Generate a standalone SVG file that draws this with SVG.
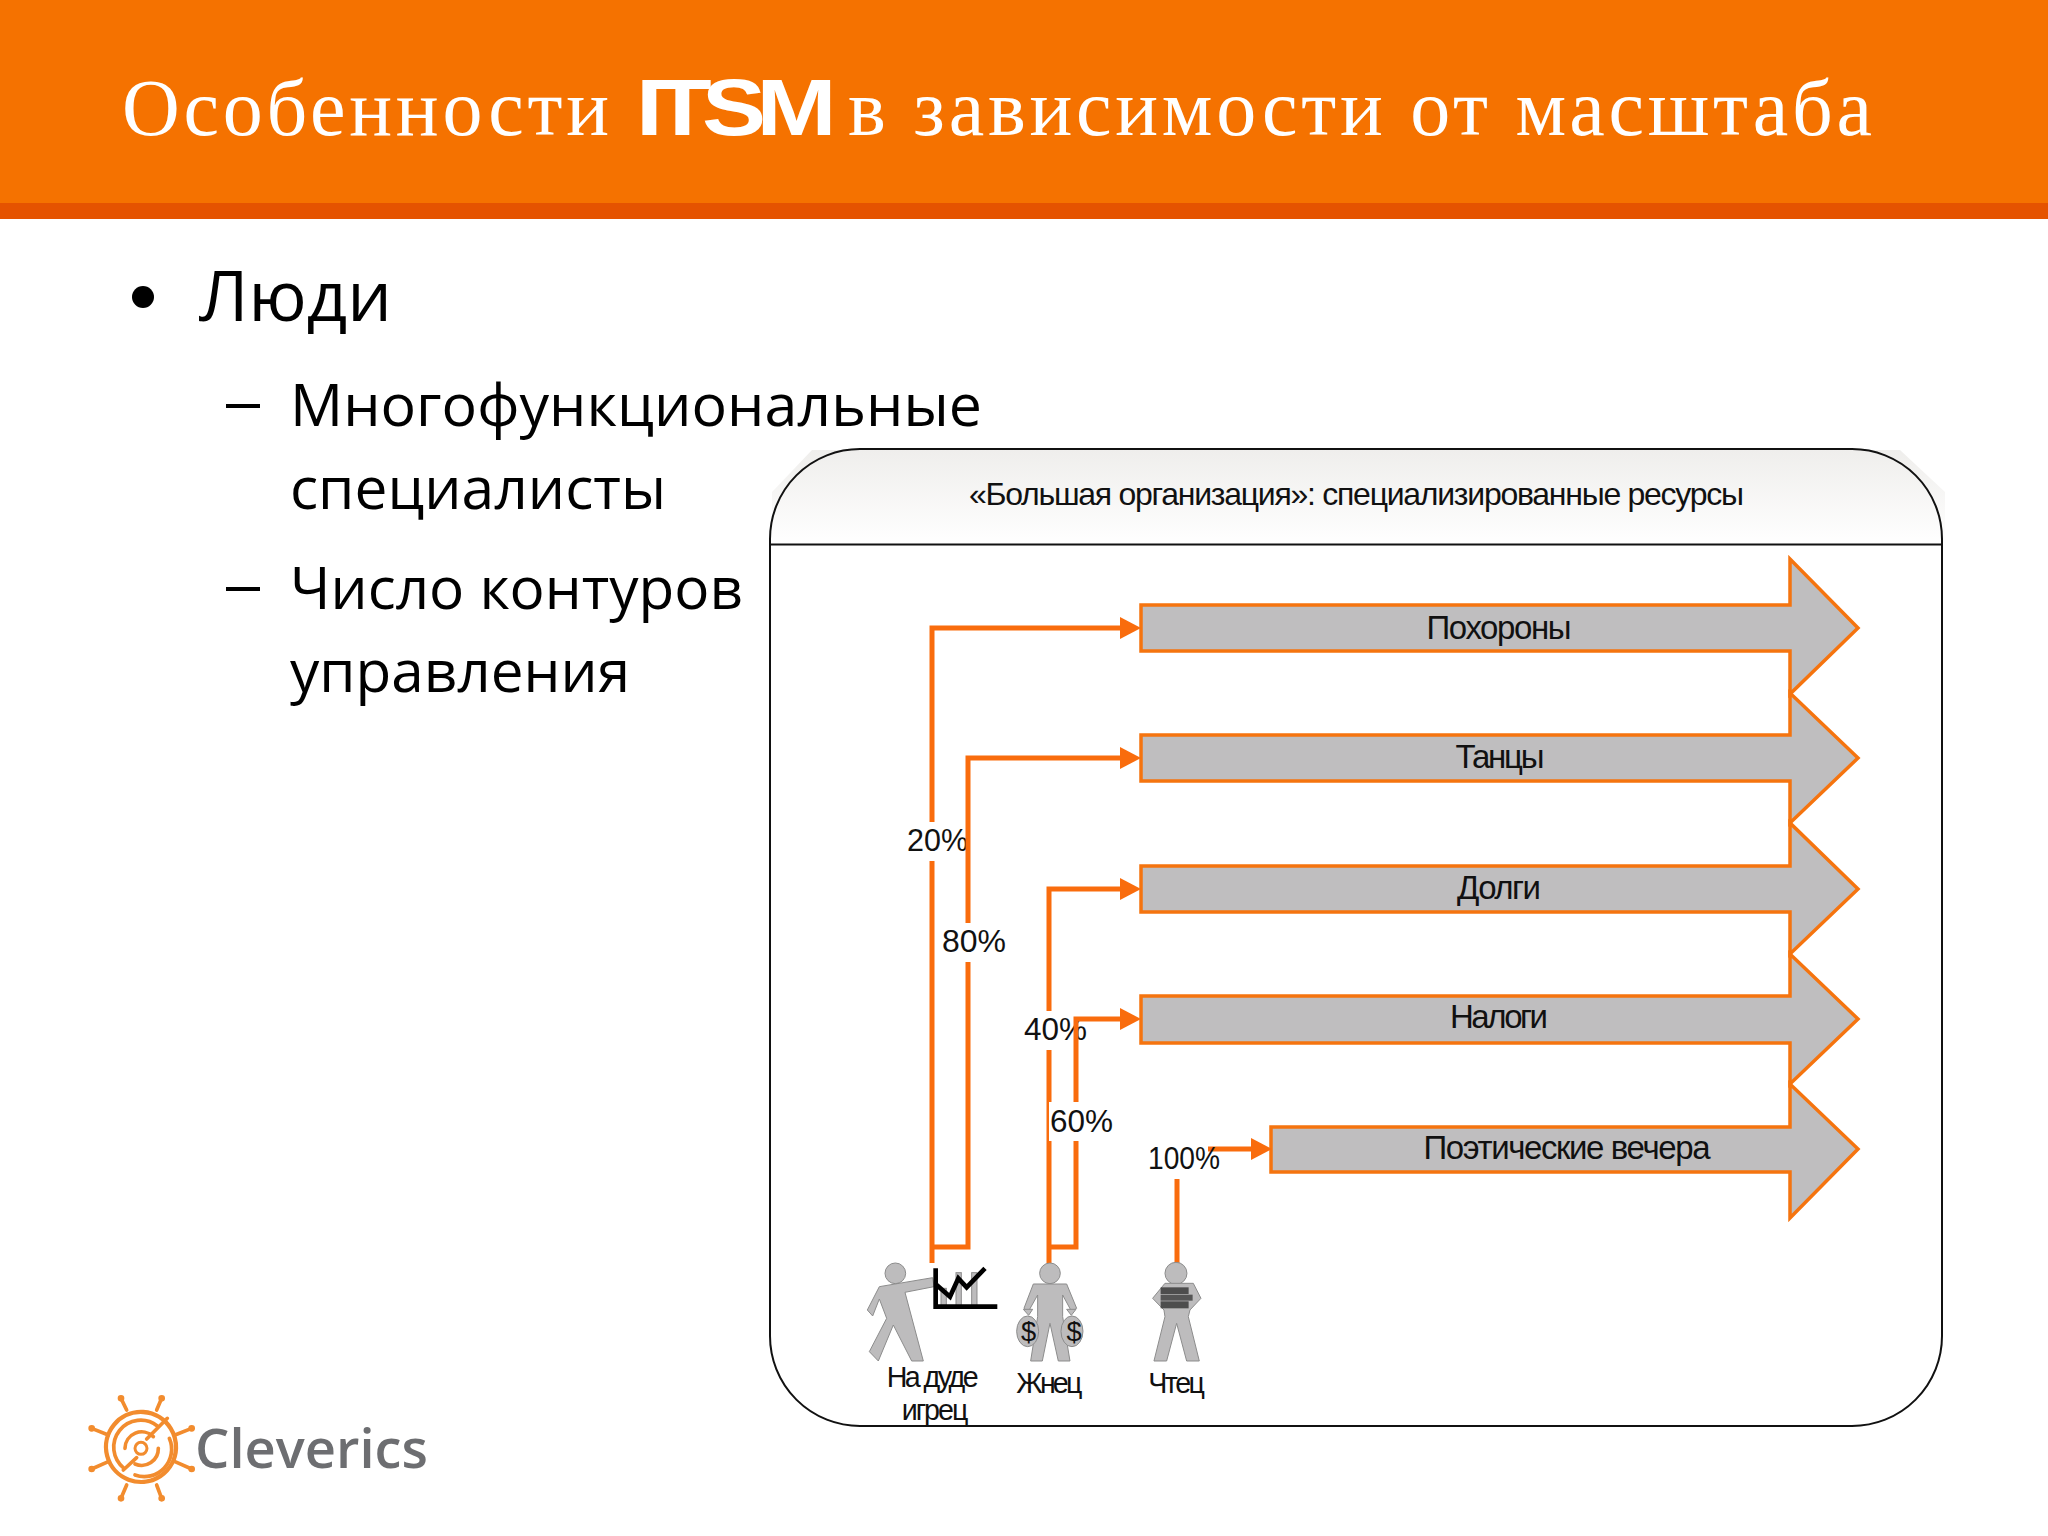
<svg xmlns="http://www.w3.org/2000/svg" width="2048" height="1536" viewBox="0 0 2048 1536">
<style>
.t{font-family:"Liberation Serif",serif;font-size:80px;fill:#fff}
.b{font-family:"Open Sans","Noto Sans",sans-serif;fill:#000}
.s{font-family:"Liberation Sans",Arial,sans-serif;fill:#111}
.p{font-size:32px}
.l{font-size:33px;text-anchor:middle}
.c{fill:none;stroke:#f96c0d;stroke-width:5}
.a{fill:#bfbebf;stroke:#f5740f;stroke-width:3.5}
.g{fill:#bdbcbd;stroke:#8c8c8c;stroke-width:3}
.w{fill:none;stroke:#f28c2e;stroke-linecap:round}
</style>
<defs>
<marker id="ah" markerUnits="userSpaceOnUse" markerWidth="21" markerHeight="22" refX="0" refY="11" orient="auto"><path d="M0 0L21 11L0 22Z" fill="#f96c0d"/></marker>
<linearGradient id="hg" x1="0" y1="0" x2="0" y2="1"><stop offset="0" stop-color="#efeeec"/><stop offset="1" stop-color="#fff"/></linearGradient>
</defs>
<rect width="2048" height="1536" fill="#fff"/>
<g id="header">
<rect width="2048" height="203" fill="#f57200"/>
<rect y="203" width="2048" height="16" fill="#e55300"/>
<text class="t" x="122" y="135" textLength="487" lengthAdjust="spacing">Особенности</text>
<text transform="translate(636 135) scale(1.2 1)" x="0" y="0" letter-spacing="-8" style="font-family:'Liberation Sans',sans-serif;font-weight:700;font-size:80px;fill:#fff">ITSM</text>
<text class="t" x="848" y="135" textLength="1024" lengthAdjust="spacing">в зависимости от масштаба</text>
</g>
<g id="bullets">
<circle cx="143" cy="297" r="11" fill="#000"/>
<text class="b" x="199" y="321" font-size="69" textLength="193" lengthAdjust="spacingAndGlyphs">Люди</text>
<rect x="226" y="404" width="34" height="4" fill="#000"/>
<text class="b" x="290" y="426" font-size="58" textLength="692" lengthAdjust="spacingAndGlyphs">Многофункциональные</text>
<text class="b" x="290" y="509" font-size="58" textLength="376" lengthAdjust="spacingAndGlyphs">специалисты</text>
<rect x="226" y="587" width="34" height="4" fill="#000"/>
<text class="b" x="290" y="609" font-size="58" textLength="453" lengthAdjust="spacingAndGlyphs">Число контуров</text>
<text class="b" x="290" y="692" font-size="58" textLength="340" lengthAdjust="spacingAndGlyphs">управления</text>
</g>
<g id="panel">
<path d="M772 544V492L812 450H1900L1945 492V544Z" fill="url(#hg)"/>
<rect x="770" y="449" width="1172" height="977" rx="90" ry="90" fill="none" stroke="#111" stroke-width="2"/>
<path d="M770 544.500H1942" stroke="#111" stroke-width="2"/>
<text class="s" x="969" y="505" font-size="32" textLength="775" lengthAdjust="spacing">«Большая организация»: специализированные ресурсы</text>
</g>
<g id="arrow-pohorony"><path class="a" d="M1141 605H1790V559L1858 628L1790 694V651H1141Z"/><text class="s l" x="1499" y="639" textLength="145" lengthAdjust="spacing">Похороны</text></g>
<g id="arrow-tantsy"><path class="a" d="M1141 735H1790V693L1858 758L1790 823V781H1141Z"/><text class="s l" x="1500" y="768" textLength="89" lengthAdjust="spacing">Танцы</text></g>
<g id="arrow-dolgi"><path class="a" d="M1141 866H1790V823L1858 889L1790 954V912H1141Z"/><text class="s l" x="1499" y="899" textLength="84" lengthAdjust="spacing">Долги</text></g>
<g id="arrow-nalogi"><path class="a" d="M1141 996H1790V954L1858 1019L1790 1084V1043H1141Z"/><text class="s l" x="1499" y="1028" textLength="98" lengthAdjust="spacing">Налоги</text></g>
<g id="arrow-vechera"><path class="a" d="M1271 1127H1790V1084L1858 1149L1790 1218V1172H1271Z"/><text class="s l" x="1567" y="1159" textLength="287" lengthAdjust="spacing">Поэтические вечера</text></g>
<g id="connectors">
<path class="c" d="M932 1263V628H1120" marker-end="url(#ah)"/>
<rect x="906" y="822" width="60" height="39" fill="#fff"/>
<text class="s p" x="907" y="851" textLength="61" lengthAdjust="spacingAndGlyphs">20%</text>
<path class="c" d="M932 1247H968V758H1120" marker-end="url(#ah)"/>
<rect x="943" y="923" width="64" height="39" fill="#fff"/>
<text class="s p" x="942" y="952" textLength="64" lengthAdjust="spacingAndGlyphs">80%</text>
<path class="c" d="M1049 1263V889H1120" marker-end="url(#ah)"/>
<rect x="1025" y="1011" width="62" height="39" fill="#fff"/>
<text class="s p" x="1024" y="1040" textLength="63" lengthAdjust="spacingAndGlyphs">40%</text>
<path class="c" d="M1049 1247H1076V1019H1120" marker-end="url(#ah)"/>
<rect x="1049" y="1102" width="63" height="39" fill="#fff"/>
<text class="s p" x="1050" y="1132" textLength="63" lengthAdjust="spacingAndGlyphs">60%</text>
<path class="c" d="M1177 1263V1149H1251" marker-end="url(#ah)"/>
<rect x="1148" y="1130" width="60" height="49" fill="#fff"/>
<text class="s p" x="1148" y="1169" textLength="72" lengthAdjust="spacingAndGlyphs">100%</text>
</g>
<g id="node-dude" transform="translate(840 1230) scale(.3333)">
<circle class="g" cx="166" cy="130" r="31"/>
<path class="g" d="M118 170L278 143L282 170L195 187L250 393H215L160 285L115 393L88 365L140 265L118 207L98 258L82 240Z"/>
<rect class="g" x="303" y="175" width="16" height="53"/><rect class="g" x="348" y="128" width="16" height="100"/><rect class="g" x="395" y="128" width="16" height="100"/>
<path d="M287 115V230H472" fill="none" stroke="#000" stroke-width="14"/>
<path d="M290 165L330 200L355 145L380 172L435 115" fill="none" stroke="#000" stroke-width="14"/>
<text class="s" x="140" y="470" font-size="86" textLength="276" lengthAdjust="spacing">На дуде</text>
<text class="s" x="285" y="570" font-size="86" text-anchor="middle" textLength="200" lengthAdjust="spacing">игрец</text>
</g>
<g id="node-zhnets" transform="translate(840 1230) scale(.3333)">
<circle class="g" cx="630" cy="130" r="31"/>
<path class="g" d="M580 162H680L710 235L695 245L668 195V260L690 393H655L630 280L607 393H572L593 260V195L565 245L552 235Z"/>
<path class="g" d="M550 238L578 238L566 256ZM708 238L680 238L694 256Z"/>
<ellipse class="g" cx="563" cy="304" rx="33" ry="46"/><ellipse class="g" cx="696" cy="304" rx="33" ry="46"/>
<text class="s" x="566" y="332" font-size="82" text-anchor="middle">$</text>
<text class="s" x="702" y="332" font-size="82" text-anchor="middle">$</text>
<text class="s" x="628" y="490" font-size="86" text-anchor="middle" textLength="198" lengthAdjust="spacing">Жнец</text>
</g>
<g id="node-chtets" transform="translate(840 1230) scale(.3333)">
<circle class="g" cx="1008" cy="130" r="33"/>
<path class="g" d="M975 160H1060L1083 205L1050 240L1045 260L1078 393H1040L1010 280L980 393H942L975 260L972 240L938 205Z"/>
<rect x="962" y="172" width="84" height="20" fill="#4d4d4d"/><rect x="962" y="194" width="96" height="18" fill="#555"/><rect x="962" y="214" width="84" height="21" fill="#4d4d4d"/>
<text class="s" x="1010" y="490" font-size="86" text-anchor="middle" textLength="170" lengthAdjust="spacing">Чтец</text>
</g>
<g id="logo">
<g class="w" transform="translate(70 1370) scale(.3333)">
<path d="M302 175A105 105 0 1 0 318 235A105 105 0 0 0 302 175" stroke-width="13"/>
<path d="M170 120L153 85M260 120L275 85M115 195L65 175M315 195L365 175M115 275L65 297M315 275L365 297M170 345L153 385M260 345L275 385" stroke-width="11"/>
<path d="M153 85h.1M275 85h.1M65 175h.1M365 175h.1M65 297h.1M365 297h.1M153 385h.1M275 385h.1" stroke-width="20"/>
<path d="M262 168A80 80 0 1 0 162 295M298 205A82 82 0 0 1 195 315M250 200A50 50 0 0 0 165 235M265 235A50 50 0 0 1 195 282" stroke-width="11"/>
<circle cx="213" cy="235" r="18" stroke-width="9"/>
<path d="M292 145L230 207M200 263L160 300" stroke-width="11"/>
</g>
<text x="195" y="1468" font-size="55" font-weight="600" fill="#6d6e71" textLength="233" lengthAdjust="spacingAndGlyphs" style="font-family:'Open Sans',sans-serif">Cleverics</text>
</g>
</svg>
